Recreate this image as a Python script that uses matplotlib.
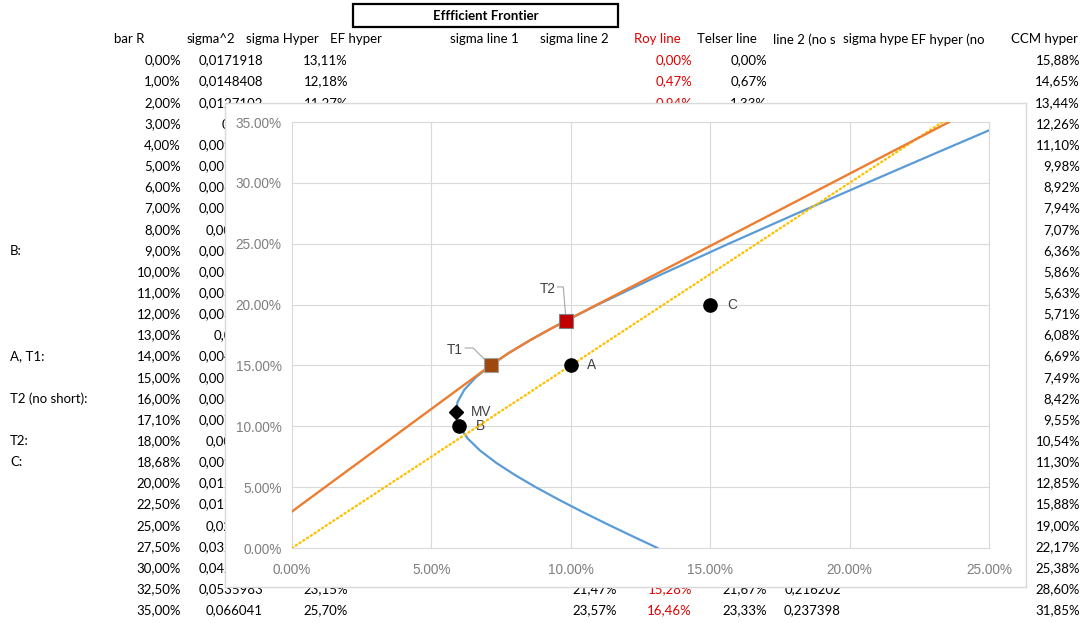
import matplotlib.pyplot as plt
from matplotlib.patches import Rectangle
from matplotlib.transforms import Bbox, TransformedBbox

# ---- spreadsheet columns (values in %) ----
bar_r = [0, 1, 2, 3, 4, 5, 6, 7, 8, 9, 10, 11, 12, 13, 14, 15, 16, 17.1, 18, 18.68,
         20, 22.5, 25, 27.5, 30, 32.5, 35]
sigma2_txt = ["0,0171918", "0,0148408", "0,0127102", "0,0108", "0,0091102", "0,0076408",
              "0,0063918", "0,0053632", "0,004555", "0,0039672", "0,0035998", "0,0034528",
              "0,0035262", "0,00382", "0,0043342", "0,0050688", "0,0060238", "0,0073292",
              "0,008595", "0,0096688", "0,0120478", "0,0176036", "0,024537", "0,0328476",
              "0,0425358", "0,0535983", "0,066041"]
sigma_hyper = [13.11, 12.18, 11.27, 10.39, 9.545, 8.741, 7.995, 7.323, 6.749, 6.299, 6.000,
               5.876, 5.938, 6.181, 6.583, 7.120, 7.761, 8.561, 9.271, 9.833, 10.976, 13.268,
               15.664, 18.124, 20.624, 23.15, 25.70]
roy_line = [0.00, 0.47, 0.94, 1.41, 1.88, 2.35, 2.82, 3.29, 3.76, 4.23, 4.70, 5.17, 5.64, 6.11,
            6.58, 7.05, 7.52, 8.04, 8.47, 8.78, 9.41, 10.58, 11.76, 12.93, 14.11, 15.28, 16.46]
telser_line = [0.00, 0.67, 1.33, 2.00, 2.67, 3.33, 4.00, 4.67, 5.33, 6.00, 6.67, 7.33, 8.00,
               8.67, 9.33, 10.00, 10.67, 11.40, 12.00, 12.45, 13.33, 15.00, 16.67, 18.33,
               20.00, 21.67, 23.33]
ccm_hyper = [15.88, 14.65, 13.44, 12.26, 11.10, 9.98, 8.92, 7.94, 7.07, 6.36, 5.86, 5.63, 5.71,
             6.08, 6.69, 7.49, 8.42, 9.55, 10.54, 11.30, 12.85, 15.88, 19.00, 22.17, 25.38,
             28.60, 31.85]
line2_noshort_txt = {25: "0,216202", 26: "0,237398"}
sigma_line2_txt = {25: 21.47, 26: 23.57}

row_labels = {9: "B:", 14: "A, T1:", 16: "T2 (no short):", 18: "T2:", 19: "C:"}
# header cells as they show (long ones cut off by the next cell)
headers = ["bar R", "sigma^2", "sigma Hyper", "EF hyper", "sigma line 1", "sigma line 2",
           "Roy line", "Telser line", "line 2 (no s", "sigma hype", "EF hyper (no",
           "CCM hyper"]

# ---- chart series (sigma %, return %) ----
line1_r = [3, 4, 5, 6, 7, 8, 9, 10, 11, 12, 13, 14, 15]
sigma_line1 = [0.0, 0.593, 1.187, 1.780, 2.374, 2.967, 3.561, 4.154, 4.748, 5.341, 5.935,
               6.528, 7.12]
ef_r = [15, 16, 17.1, 18, 18.68]
ef_hyper = [7.12, 7.761, 8.561, 9.271, 9.833]
line2_r = [18.68, 20, 22.5, 25, 27.5, 30, 32.5, 35]
sigma_line2 = [9.833, 10.946, 13.052, 15.157, 17.262, 19.367, 21.47, 23.57]

pt_names = ["A", "B", "C"]
pt_sigma = [10, 6, 15]
pt_r = [15, 10, 20]
mv_sigma, mv_r = 5.87, 11.17
t1_sigma, t1_r = 7.12, 15.0
t2_sigma, t2_r = 9.83, 18.68

W, H = 1081, 623
FRAME = (225, 103, 1026, 587)  # chart object in sheet pixels: left, top, right, bottom

fig = plt.figure(figsize=(W / 100, H / 100), dpi=100)
fig.patch.set_facecolor("white")

# background "sheet"
bg = fig.add_axes([0, 0, 1, 1], zorder=0)
bg.set_xlim(0, W)
bg.set_ylim(H, 0)
bg.axis("off")

sheet_font = "Lato"
fs = 9.5


def row_y(i):
    return 60.5 + i * 21.15


def pct(v):
    return f"{v:.2f}".replace(".", ",") + "%"


def cell(x, y, s, ha="right", color="black", **kw):
    t = bg.text(x, y, s, ha=ha, va="center", fontsize=fs, family=sheet_font, color=color, **kw)
    # text running under the chart object is cut at its left edge
    if FRAME[1] + 8 < y < FRAME[3] - 8 and ha == "right" and FRAME[0] < x < FRAME[2]:
        box = TransformedBbox(Bbox.from_extents(0, y - 12, FRAME[0], y + 12), bg.transData)
        t.set_clip_box(box)
        t.set_clip_on(True)
    return t


def hidden(x0, x1, y):
    # cell text fully covered by the chart object
    return x0 > FRAME[0] and x1 < FRAME[2] and FRAME[1] + 8 < y < FRAME[3] - 8


# title cell
bg.add_patch(Rectangle((353, 4), 265, 23, fill=False, edgecolor="black", lw=1.6))
bg.text(485.5, 16, "Effficient Frontier", ha="center", va="center", fontsize=fs,
        family=sheet_font, weight="bold")

# header row
head_x = [114, 187, 246, 330, 450, 540, 634, 697, 773, 843, 911, 1011]
for hx, hs in zip(head_x, headers):
    cell(hx, 39.4, hs, ha="left", color="#E00000" if hs == "Roy line" else "black")

for i, r in enumerate(bar_r):
    y = row_y(i)
    cell(181, y, pct(r))
    cell(263, y, sigma2_txt[i])
    if not hidden(300, 348, y):
        cell(348, y, pct(sigma_hyper[i]))
        cell(692, y, pct(roy_line[i]), color="#E00000")
        cell(767, y, pct(telser_line[i]))
    cell(1080, y, pct(ccm_hyper[i]))
    if i in sigma_line2_txt:
        cell(617, y, pct(sigma_line2_txt[i]))
    if i in line2_noshort_txt:
        cell(841, y, line2_noshort_txt[i])
    if i in row_labels:
        cell(10, y, row_labels[i], ha="left")

# chart frame
frame = fig.add_axes([FRAME[0] / W, (H - FRAME[3]) / H, (FRAME[2] - FRAME[0]) / W,
                      (FRAME[3] - FRAME[1]) / H], zorder=1)
frame.set_facecolor("white")
frame.set_xticks([])
frame.set_yticks([])
for s in frame.spines.values():
    s.set_color("#D9D9D9")
    s.set_linewidth(1.0)

# plot area
ax = fig.add_axes([292 / W, (H - 548) / H, 697 / W, 426 / H], zorder=2)
ax.set_facecolor("none")
ax.set_xlim(0, 25)
ax.set_ylim(0, 35)
ax.set_xticks([0, 5, 10, 15, 20, 25])
ax.set_yticks([0, 5, 10, 15, 20, 25, 30, 35])
ax.xaxis.set_major_formatter(lambda v, p: f"{v:.2f}%")
ax.yaxis.set_major_formatter(lambda v, p: f"{v:.2f}%")
ax.tick_params(length=0, labelsize=9.8, labelcolor="#7F7F7F")
ax.tick_params(axis="x", pad=10.5)
ax.tick_params(axis="y", pad=7.5)
for lab in ax.get_xticklabels() + ax.get_yticklabels():
    lab.set_family("Liberation Sans")
for s in ax.spines.values():
    s.set_visible(False)
ax.grid(True, color="#D9D9D9", lw=0.8)
ax.set_axisbelow(True)
for gl in ax.get_xgridlines() + ax.get_ygridlines():
    gl.set_clip_on(False)

ax.plot(sigma_hyper, bar_r, color="#5B9BD5", lw=1.6, zorder=3)
ax.plot(telser_line, bar_r, color="#FFC000", lw=1.7, ls=(0, (0.5, 1.4)),
        dash_capstyle="round", zorder=4)
for sx, ry in [(sigma_line1, line1_r), (ef_hyper, ef_r), (sigma_line2, line2_r)]:
    ax.plot(sx, ry, color="#ED7D31", lw=1.7, zorder=5)

ax.plot(pt_sigma, pt_r, "o", color="black", ms=9.5, zorder=6)
ax.plot(mv_sigma, mv_r, "D", color="black", ms=7.5, zorder=6)
ax.plot(t1_sigma, t1_r, "s", color="#9E480E", mec="#A0A0A0", mew=0.8, ms=10, zorder=7)
ax.plot(t2_sigma, t2_r, "s", color="#C00000", mec="#808080", mew=0.8, ms=9.5, zorder=7)

lab_kw = dict(fontsize=9.8, color="#404040", family="Liberation Sans", va="center")
for n, sx, ry in zip(pt_names, pt_sigma, pt_r):
    ax.annotate(n, (sx, ry), xytext=(12, 0), textcoords="offset points", ha="left", **lab_kw)
ax.annotate("MV", (mv_sigma, mv_r), xytext=(11, 0), textcoords="offset points",
            ha="left", **lab_kw)

# callout labels with leader lines
ax.plot([6.21, 6.50, t1_sigma], [16.43, 16.43, t1_r], color="#A6A6A6", lw=0.8, zorder=6)
ax.text(6.13, 16.27, "T1", ha="right", **lab_kw)
ax.plot([9.52, 9.73, t2_sigma], [21.45, 21.45, t2_r], color="#A6A6A6", lw=0.8, zorder=6)
ax.text(9.44, 21.28, "T2", ha="right", **lab_kw)

fig.savefig("out.png", dpi=100)
